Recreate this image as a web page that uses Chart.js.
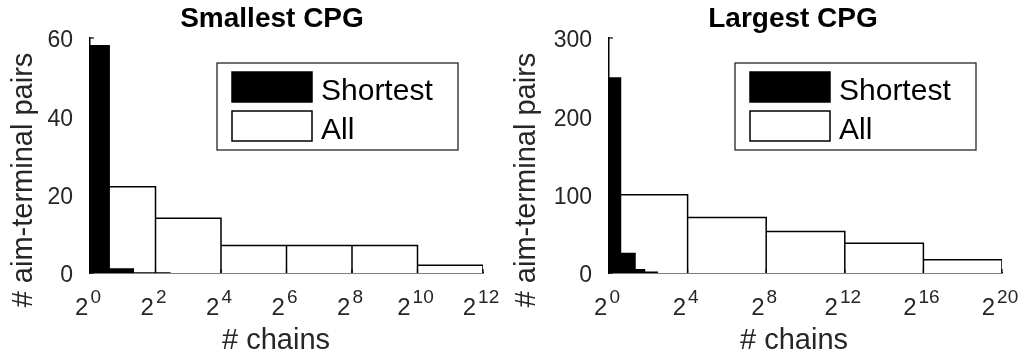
<!DOCTYPE html>
<html lang="en">
<head>
<meta charset="UTF-8">
<title>Smallest / Largest CPG</title>
<script src="https://cdn.jsdelivr.net/npm/chart.js@4.4.0/dist/chart.umd.min.js"></script>
<style>
  html, body { margin: 0; padding: 0; background: #fff; }
  canvas { position: absolute; top: 0; }
</style>
</head>
<body>
<canvas id="small" width="512" height="364" style="left:0"></canvas>
<canvas id="large" width="512" height="364" style="left:512px"></canvas>
<script>
// Smallest CPG: histogram bin edges (# chains) and counts
const smallAllEdges = [1, 4, 16, 64, 256, 1024, 4096];
const smallAllCounts = [22, 14, 7, 7, 7, 2];
const smallShortEdges = [1, 1.5, 2.5, 3.5, 5.5];
const smallShortCounts = [58, 1, 0, 0];
const smallYTicks = [0, 20, 40, 60];
const smallXExps = [0, 2, 4, 6, 8, 10, 12];

// Largest CPG
const largeAllEdges = [1, 16, 256, 4096, 65536, 1048576];
const largeAllCounts = [100, 71, 53, 38, 17];
const largeShortEdges = [1, 1.5, 2.5, 3.5, 5.5];
const largeShortCounts = [249, 25, 4, 1];
const largeYTicks = [0, 100, 200, 300];
const largeXExps = [0, 4, 8, 12, 16, 20];

const seriesNames = ['Shortest', 'All'];
const FONT = '"Liberation Sans", Arial, Helvetica, sans-serif';

// outline of a histogram as a stair path, bins separated by vertical lines
function stairs(edges, counts) {
    let pts = [{x: edges[0], y: 0}];
    counts.forEach((c, i) => {
        pts.push({x: edges[i], y: c}, {x: edges[i + 1], y: c}, {x: edges[i + 1], y: 0});
    });
    return pts;
}

const decor = {
    id: 'decor',
    afterDraw(chart, args, o) {
        const ctx = chart.ctx;
        const a = chart.chartArea;
        const x = chart.scales.x, y = chart.scales.y;
        ctx.save();

        // inward tick marks
        ctx.strokeStyle = '#000';
        ctx.lineWidth = 1.2;
        y.ticks.forEach(t => {
            let py = y.getPixelForValue(t.value);
            ctx.beginPath(); ctx.moveTo(a.left, py); ctx.lineTo(a.left + 4, py); ctx.stroke();
        });
        x.ticks.forEach(t => {
            let px = x.getPixelForValue(t.value);
            ctx.beginPath(); ctx.moveTo(px, a.bottom); ctx.lineTo(px, a.bottom - 4); ctx.stroke();
        });

        // x tick labels as 2 with a raised exponent
        ctx.fillStyle = '#262626';
        ctx.textAlign = 'left';
        ctx.textBaseline = 'alphabetic';
        x.ticks.forEach(t => {
            let e = String(Math.round(Math.log2(t.value)));
            ctx.font = '24px ' + FONT;
            let wb = ctx.measureText('2').width;
            ctx.font = '19px ' + FONT;
            let we = ctx.measureText(e).width;
            let px = x.getPixelForValue(t.value);
            let x0 = px - (wb + 2 + we) / 2 - 2;
            ctx.font = '24px ' + FONT;
            ctx.fillText('2', x0, 315);
            ctx.font = '19px ' + FONT;
            ctx.fillText(e, x0 + wb + 2, 303);
        });

        // axis titles
        ctx.font = '29px ' + FONT;
        ctx.textAlign = 'center';
        ctx.fillText(o.xTitle, o.xTitleX, 349);
        ctx.save();
        ctx.translate(o.yTitleX, 180);
        ctx.rotate(-Math.PI / 2);
        ctx.textBaseline = 'middle';
        ctx.fillText(o.yTitle, 0, 0);
        ctx.restore();

        // chart title
        ctx.fillStyle = '#000';
        ctx.font = 'bold 28px ' + FONT;
        ctx.fillText(o.title, o.titleX, 27);

        // legend box
        const lx = o.legendX, ly = 63;
        ctx.fillStyle = '#fff';
        ctx.fillRect(lx, ly, 241, 87);
        ctx.strokeStyle = '#262626';
        ctx.lineWidth = 1.3;
        ctx.strokeRect(lx, ly, 241, 87);
        chart.data.datasets.forEach((ds, i) => {
            let sy = ly + 9 + i * 39;
            ctx.fillStyle = ds.backgroundColor;
            ctx.fillRect(lx + 15, sy, 80, 30);
            ctx.strokeStyle = '#000';
            ctx.lineWidth = 1.5;
            ctx.strokeRect(lx + 15, sy, 80, 30);
            ctx.fillStyle = '#000';
            ctx.font = '30px ' + FONT;
            ctx.textAlign = 'left';
            ctx.fillText(ds.label, lx + 104, sy + 28);
        });
        ctx.restore();
    }
};

function makeChart(id, p) {
    return new Chart(document.getElementById(id), {
        type: 'line',
        data: {
            datasets: [{
                label: seriesNames[0],
                data: stairs(p.shortEdges, p.shortCounts),
                borderColor: '#000',
                backgroundColor: '#000',
                borderWidth: 1.5,
                fill: 'origin',
                pointRadius: 0,
                tension: 0
            }, {
                label: seriesNames[1],
                data: stairs(p.allEdges, p.allCounts),
                borderColor: '#000',
                backgroundColor: '#fff',
                borderWidth: 1.5,
                fill: 'origin',
                pointRadius: 0,
                tension: 0
            }]
        },
        options: {
            responsive: false,
            animation: false,
            events: [],
            layout: { padding: { top: 38, right: p.right, left: 0, bottom: 0 } },
            scales: {
                x: {
                    type: 'logarithmic',
                    min: 1,
                    max: Math.pow(2, p.xExps[p.xExps.length - 1]),
                    afterBuildTicks: s => { s.ticks = p.xExps.map(e => ({ value: Math.pow(2, e) })); },
                    ticks: { color: 'rgba(0,0,0,0)', callback: () => '' },
                    grid: { display: false, drawTicks: false },
                    border: { display: true, color: '#000', width: 1.5 },
                    afterFit: s => { s.height = 91; }
                },
                y: {
                    min: 0,
                    max: p.yTicks[p.yTicks.length - 1],
                    afterBuildTicks: s => { s.ticks = p.yTicks.map(v => ({ value: v })); },
                    ticks: { color: '#262626', font: { family: FONT, size: 23 }, padding: 17, labelOffset: 3 },
                    grid: { display: false, drawTicks: false },
                    border: { display: true, color: '#000', width: 1.5 },
                    afterFit: s => { s.width = p.left; }
                }
            },
            plugins: {
                legend: { display: false },
                title: { display: false },
                tooltip: { enabled: false },
                decor: {
                    title: p.title, titleX: p.titleX,
                    xTitle: '# chains', xTitleX: p.xTitleX,
                    yTitle: '# aim-terminal pairs', yTitleX: p.yTitleX,
                    legendX: p.legendX
                }
            }
        },
        plugins: [decor]
    });
}

makeChart('small', {
    allEdges: smallAllEdges, allCounts: smallAllCounts,
    shortEdges: smallShortEdges, shortCounts: smallShortCounts,
    yTicks: smallYTicks, xExps: smallXExps,
    left: 90, right: 29,
    title: 'Smallest CPG', titleX: 272, xTitleX: 276, yTitleX: 24, legendX: 217
});

makeChart('large', {
    allEdges: largeAllEdges, allCounts: largeAllCounts,
    shortEdges: largeShortEdges, shortCounts: largeShortCounts,
    yTicks: largeYTicks, xExps: largeXExps,
    left: 97, right: 22,
    title: 'Largest CPG', titleX: 281, xTitleX: 282, yTitleX: 15, legendX: 223
});
</script>
</body>
</html>
